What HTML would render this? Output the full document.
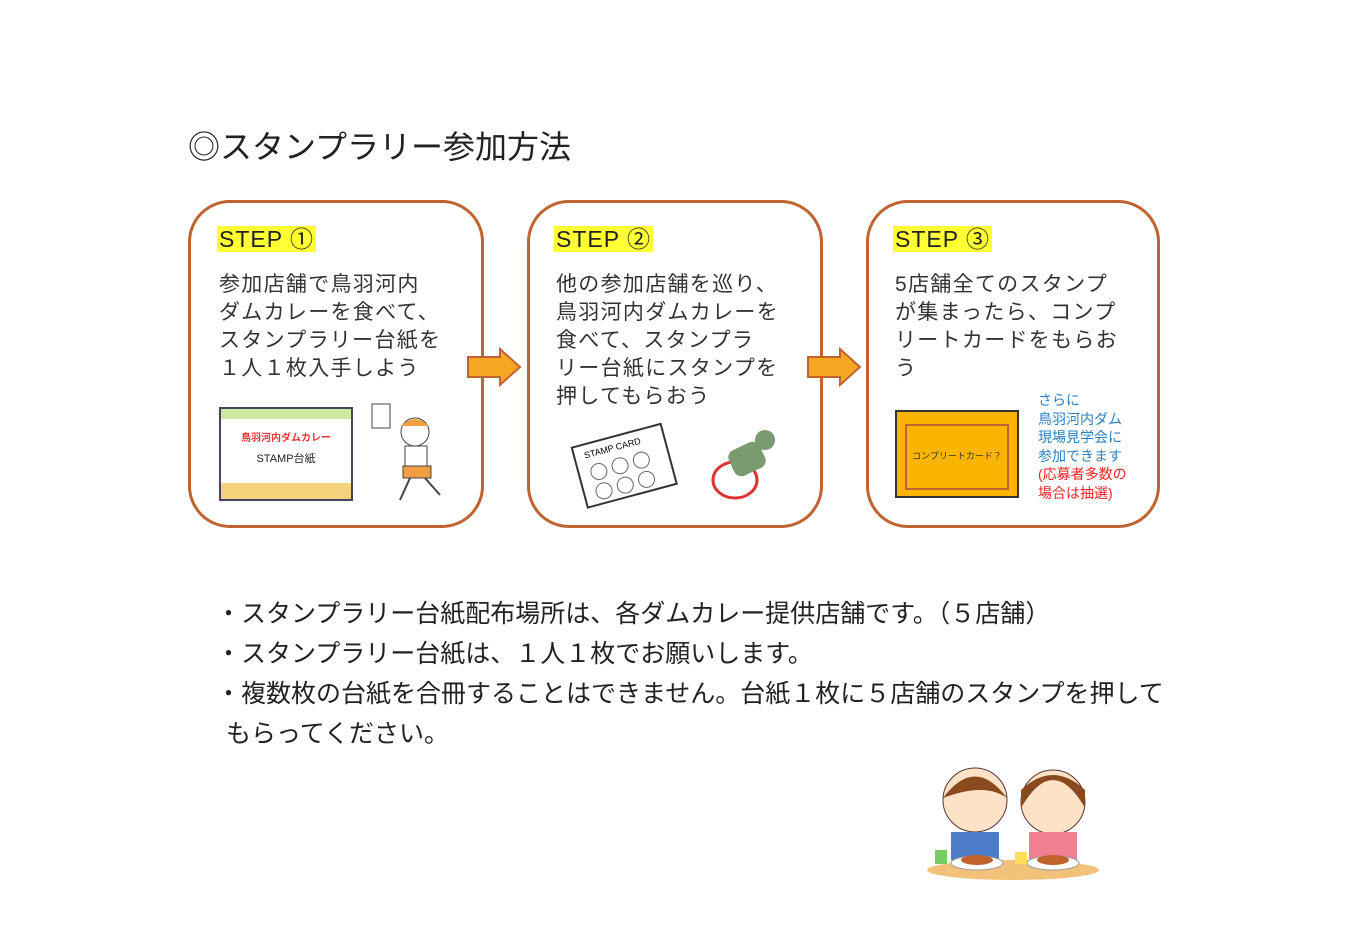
<!DOCTYPE html>
<html><head><meta charset="utf-8"><style>
body{margin:0;width:1354px;height:931px;background:#fff;position:relative;overflow:hidden;font-family:"Liberation Sans","Noto Sans CJK JP",sans-serif;color:#222}
.a{position:absolute}
.box{position:absolute;top:200px;height:328px;border:3px solid #c0632e;border-radius:42px;box-sizing:border-box;width:296px}
.step{position:absolute;font-size:23px;background:#ffff33;padding:0 2px;line-height:26px;top:226px;letter-spacing:1px}
.body{position:absolute;font-size:21px;line-height:28px;top:271px;letter-spacing:1.3px;color:#333}
.bul{position:absolute;font-size:25px;left:216px;color:#222}
</style></head><body>
<div class="a" style="left:188px;top:122px;font-size:32px">◎スタンプラリー参加方法</div>

<div class="box" style="left:188px"></div>
<div class="box" style="left:527px"></div>
<div class="box" style="left:866px;width:294px"></div>

<div class="step" style="left:217px">STEP ①</div>
<div class="step" style="left:554px">STEP ②</div>
<div class="step" style="left:893px">STEP ③</div>

<div class="body" style="left:219px">参加店舗で鳥羽河内<br>ダムカレーを食べて、<br>スタンプラリー台紙を<br>１人１枚入手しよう</div>
<div class="body" style="left:556px">他の参加店舗を巡り、<br>鳥羽河内ダムカレーを<br>食べて、スタンプラ<br>リー台紙にスタンプを<br>押してもらおう</div>
<div class="body" style="left:895px">5店舗全てのスタンプ<br>が集まったら、コンプ<br>リートカードをもらお<br>う</div>

<svg class="a" style="left:466px;top:347px" width="58" height="40"><polygon points="2,10 34,10 34,2 54,20 34,38 34,30 2,30" fill="#f5a623" stroke="#c0632e" stroke-width="2"/></svg>
<svg class="a" style="left:806px;top:347px" width="58" height="40"><polygon points="2,10 34,10 34,2 54,20 34,38 34,30 2,30" fill="#f5a623" stroke="#c0632e" stroke-width="2"/></svg>

<div class="a" style="left:219px;top:407px;width:130px;height:90px;border:2px solid #446;background:#fff">
<div style="height:10px;background:#cde9a0"></div>
<div style="text-align:center;font-size:10px;color:#e33;font-weight:bold;margin-top:10px">鳥羽河内ダムカレー</div>
<div style="text-align:center;font-size:11px;margin-top:6px">STAMP台紙</div>
<div style="position:absolute;bottom:0;left:0;right:0;height:16px;background:#f4d27a"></div>
</div>
<svg class="a" style="left:370px;top:400px" width="90" height="105"><rect x="2" y="4" width="18" height="24" fill="#fff" stroke="#444"/><circle cx="45" cy="32" r="14" fill="#fff" stroke="#444"/><path d="M31 26 Q45 12 59 26" fill="#f0a040"/><rect x="35" y="46" width="22" height="22" fill="#fff" stroke="#444"/><rect x="33" y="66" width="28" height="12" fill="#f0a040" stroke="#444"/><path d="M40 78 L30 100 M55 78 L70 95" stroke="#444" stroke-width="2"/></svg>

<svg class="a" style="left:568px;top:420px" width="110" height="90"><g transform="rotate(-15 55 45)"><rect x="10" y="15" width="92" height="62" fill="#fff" stroke="#333" stroke-width="2"/><text x="20" y="29" font-size="9" font-family="Liberation Sans">STAMP CARD</text><g fill="none" stroke="#666"><circle cx="30" cy="45" r="8"/><circle cx="52" cy="45" r="8"/><circle cx="74" cy="45" r="8"/><circle cx="30" cy="65" r="8"/><circle cx="52" cy="65" r="8"/><circle cx="74" cy="65" r="8"/></g></g></svg>
<svg class="a" style="left:700px;top:425px" width="85" height="80"><ellipse cx="35" cy="55" rx="22" ry="18" fill="#fff" stroke="#d33" stroke-width="3"/><rect x="30" y="20" width="34" height="28" rx="8" fill="#7a9a70" transform="rotate(-25 47 34)"/><circle cx="65" cy="15" r="10" fill="#7a9a70"/></svg>

<div class="a" style="left:895px;top:410px;width:124px;height:88px;background:#fbb500;border:2px solid #333;box-sizing:border-box">
<div style="position:absolute;left:8px;top:12px;right:8px;bottom:6px;border:2px solid #c0632e;font-size:9px;text-align:center;line-height:60px;color:#333">コンプリートカード？</div></div>
<div class="a" style="left:1038px;top:391px;font-size:14px;line-height:18.5px;color:#2a7fc0">さらに<br>鳥羽河内ダム<br>現場見学会に<br>参加できます<br><span style="color:#e22">(応募者多数の<br>場合は抽選)</span></div>

<div class="bul" style="top:594px">・スタンプラリー台紙配布場所は、各ダムカレー提供店舗です。（５店舗）</div>
<div class="bul" style="top:634px">・スタンプラリー台紙は、１人１枚でお願いします。</div>
<div class="bul" style="top:674px">・複数枚の台紙を合冊することはできません。台紙１枚に５店舗のスタンプを押して</div>
<div class="bul" style="top:714px;left:226px">もらってください。</div>

<svg class="a" style="left:925px;top:760px" width="180" height="125">
<ellipse cx="88" cy="110" rx="86" ry="10" fill="#f2c27a"/>
<circle cx="50" cy="40" r="32" fill="#fde2c8" stroke="#533" /><path d="M18 38 Q50 -5 82 38 Q60 22 18 38" fill="#8a4a20"/>
<circle cx="128" cy="42" r="32" fill="#fde2c8" stroke="#533"/><path d="M96 48 Q128 -8 160 48 L160 30 Q128 0 96 30Z" fill="#8a4a20"/>
<rect x="26" y="72" width="48" height="28" fill="#4c7cc8"/><rect x="104" y="72" width="48" height="28" fill="#f08090"/>
<ellipse cx="52" cy="103" rx="26" ry="7" fill="#fff" stroke="#999"/><ellipse cx="128" cy="103" rx="26" ry="7" fill="#fff" stroke="#999"/>
<ellipse cx="52" cy="100" rx="16" ry="5" fill="#c0622b"/><ellipse cx="128" cy="100" rx="16" ry="5" fill="#c0622b"/>
<rect x="10" y="90" width="12" height="14" fill="#7c6"/><rect x="90" y="92" width="12" height="12" fill="#fd5"/>
</svg>
</body></html>
